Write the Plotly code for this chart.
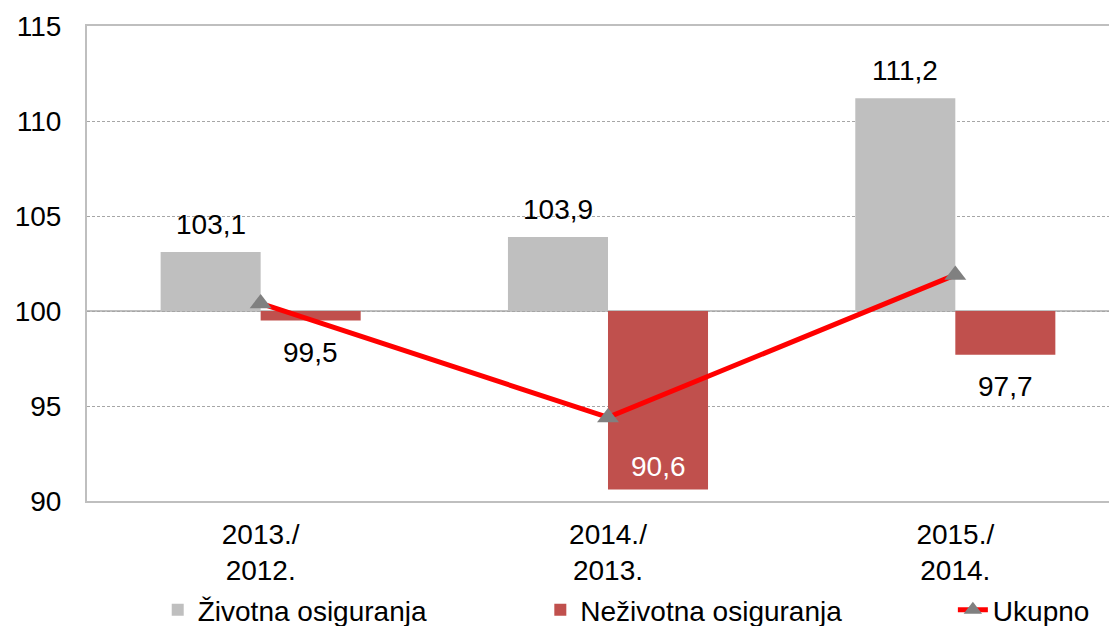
import plotly.graph_objects as go

categories = ["2013./<br>2012.", "2014./<br>2013.", "2015./<br>2014."]
zivotna = [103.1, 103.9, 111.2]
nezivotna = [99.5, 90.6, 97.7]
ukupno = [100.4, 94.4, 101.9]
base = 100

FONT = "Liberation Sans, Arial, sans-serif"
FS = 28
BARGAP = 0.424
bw = (1 - BARGAP) / 2
xs = list(range(len(categories)))

fig = go.Figure()
fig.add_trace(go.Bar(
    name="Životna osiguranja", x=xs, y=[v - base for v in zivotna], base=base,
    marker=dict(color="#BFBFBF", line=dict(width=0)), hoverinfo="skip", legend="legend"))
fig.add_trace(go.Bar(
    name="Neživotna osiguranja", x=xs, y=[v - base for v in nezivotna], base=base,
    marker=dict(color="#C0504D", line=dict(width=0)), hoverinfo="skip", legend="legend2"))
fig.add_trace(go.Scatter(
    name="Ukupno", x=xs, y=ukupno, mode="lines+markers",
    line=dict(color="#FF0000", width=5),
    marker=dict(symbol="triangle-up", size=19, color="#808080"), hoverinfo="skip",
    legend="legend3"))

def fmt(v):
    return f"{v:.1f}".replace(".", ",")

ann = []
for i, v in enumerate(zivotna):
    ann.append(dict(x=i - bw / 2, y=v, text=fmt(v), showarrow=False, yanchor="bottom",
                    yshift=10, font=dict(size=FS, color="#000000", family=FONT)))
for i, v in enumerate(nezivotna):
    if v < 95:
        ann.append(dict(x=i + bw / 2, y=v, text=fmt(v), showarrow=False, yanchor="bottom",
                        yshift=6, font=dict(size=FS, color="#FFFFFF", family=FONT)))
    else:
        ann.append(dict(x=i + bw / 2, y=v, text=fmt(v), showarrow=False, yanchor="top",
                        yshift=-14, font=dict(size=FS, color="#000000", family=FONT)))

fig.add_hline(y=base, line=dict(color="#BFBFBF", width=2), layer="below")

def leg(x):
    return dict(orientation="h", x=x, xanchor="left", y=0.026, yanchor="middle",
                xref="container", yref="container", bgcolor="rgba(0,0,0,0)",
                font=dict(size=FS, family=FONT, color="#000000"))

fig.update_layout(
    width=1109, height=618,
    margin=dict(l=79, r=0, t=18, b=125),
    paper_bgcolor="white", plot_bgcolor="white",
    barmode="group", bargap=BARGAP, bargroupgap=0,
    font=dict(family=FONT, size=FS, color="#000000"),
    annotations=ann,
    showlegend=True,
    legend=leg(0.135), legend2=leg(0.480), legend3=leg(0.852),
    xaxis=dict(tickmode="array", tickvals=xs, ticktext=categories, automargin=False,
               range=[-0.5, 2.4655], showgrid=False, showline=True, mirror=True,
               linecolor="#BFBFBF", linewidth=2, ticks="", fixedrange=True,
               ticklabelstandoff=7,
               tickfont=dict(size=FS, family=FONT, color="#000000")),
    yaxis=dict(range=[90, 115], tickvals=[90, 95, 100, 105, 110, 115], automargin=False,
               showgrid=True, gridcolor="#A6A6A6", gridwidth=1, griddash="3px,2px",
               showline=True, linecolor="#BFBFBF", linewidth=2, mirror=False,
               ticks="", ticklabelstandoff=18, zeroline=False,
               tickfont=dict(size=FS, family=FONT, color="#000000")),
)

fig.write_html("out.html")
